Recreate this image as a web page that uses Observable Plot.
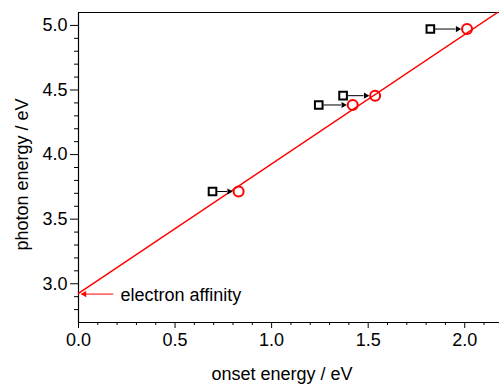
<!DOCTYPE html>
<html>
<head>
<meta charset="utf-8">
<script src="https://cdn.jsdelivr.net/npm/d3@7"></script>
<script src="https://cdn.jsdelivr.net/npm/@observablehq/plot@0.6"></script>
<style>
  html, body { margin: 0; padding: 0; background: #fff; }
  #chart svg { display: block; }
</style>
</head>
<body>
<div id="chart"></div>
<script>
// ---- data ----
const onsetStart = [0.694, 1.244, 1.37, 1.822];   // squares (initial onset)
const onsetEnd   = [0.829, 1.42, 1.536, 2.012];   // circles (corrected onset)
const photon     = [3.714, 4.384, 4.456, 4.972];  // photon energy
const fitX = [0, 2.17];
const fitY = [2.925, 5.1];
const eaX = [0.18, 0.015];
const eaY = 2.92;
const eaLabel = "electron affinity";
const xMajor = [0, 0.5, 1.0, 1.5, 2.0];
const xMinor = [0.1,0.2,0.3,0.4,0.6,0.7,0.8,0.9,1.1,1.2,1.3,1.4,1.6,1.7,1.8,1.9,2.1];
const yMajor = [3.0, 3.5, 4.0, 4.5, 5.0];
const yMinor = [2.8,2.9,3.1,3.2,3.3,3.4,3.6,3.7,3.8,3.9,4.1,4.2,4.3,4.4,4.6,4.7,4.8,4.9];
const xDomain = [0, 2.18];
const yDomain = [2.7, 5.1];
const xLabel = "onset energy / eV";
const yLabel = "photon energy / eV";

const pts = photon.map((p, i) => ({x0: onsetStart[i], x1: onsetEnd[i], y: p}));
const fit = fitX.map((x, i) => ({x, y: fitY[i]}));

const FS = 18;
const chart = Plot.plot({
  width: 499,
  height: 389,
  marginLeft: 78,
  marginRight: 0,
  marginTop: 12,
  marginBottom: 67,
  style: {fontFamily: "'Liberation Sans', Arial, sans-serif", fontSize: FS + "px", color: "#000", background: "#fff"},
  x: {domain: xDomain},
  y: {domain: yDomain},
  marks: [
    Plot.axisX(xMajor, {tickSize: 6, tickPadding: 5, tickFormat: d => d.toFixed(1), label: null, fontSize: FS}),
    Plot.axisX(xMinor, {tickSize: 3, tickFormat: () => "", label: null}),
    Plot.axisY(yMajor, {tickSize: 8, tickPadding: 3, tickFormat: d => d.toFixed(1), label: null, fontSize: FS}),
    Plot.axisY(yMinor, {tickSize: 4, tickFormat: () => "", label: null}),
    Plot.ruleX([xDomain[0]], {stroke: "#000", strokeWidth: 1.2}),
    Plot.ruleY([yDomain[0]], {stroke: "#000", strokeWidth: 1.2}),
    Plot.ruleY([yDomain[1]], {stroke: "#000", strokeWidth: 1.2}),
    Plot.line(fit, {x: "x", y: "y", stroke: "#ff0000", strokeWidth: 1.5, clip: true}),
    Plot.arrow(pts, {x1: "x0", x2: "x1", y1: "y", y2: "y", insetStart: 5, insetEnd: 12, headLength: 0, stroke: "#000", strokeWidth: 1}),
    Plot.dot(pts, {x: "x1", y: "y", symbol: "triangle", r: 2.3, rotate: 90, dx: -9.4, fill: "#000", stroke: "none"}),
    Plot.dot(pts, {x: "x0", y: "y", symbol: "square", r: 4.3, stroke: "#000", strokeWidth: 2, fill: "none"}),
    Plot.dot(pts, {x: "x1", y: "y", r: 5, stroke: "#ff0000", strokeWidth: 2, fill: "none"}),
    Plot.link([{a: eaX[0], b: eaX[1]}], {x1: "a", x2: "b", y1: () => eaY, y2: () => eaY, stroke: "#ff0000", strokeWidth: 1}),
    Plot.dot([eaX[1]], {x: d => d, y: () => eaY, symbol: "triangle", r: 2.3, rotate: -90, dx: 3, fill: "#ff0000", stroke: "none"}),
    Plot.text([eaLabel], {x: () => 0, y: () => eaY, dx: 42, dy: 1, textAnchor: "start", fontSize: FS, fill: "#000"}),
    Plot.text([xLabel], {frameAnchor: "bottom", dx: -7, dy: 57, fontSize: FS, fill: "#000"}),
    Plot.text([yLabel], {x: () => xDomain[0], y: () => (yDomain[0] + yDomain[1]) / 2, rotate: -90, dx: -56, dy: 7, fontSize: FS, fill: "#000"})
  ]
});
document.getElementById("chart").appendChild(chart);
</script>
</body>
</html>
